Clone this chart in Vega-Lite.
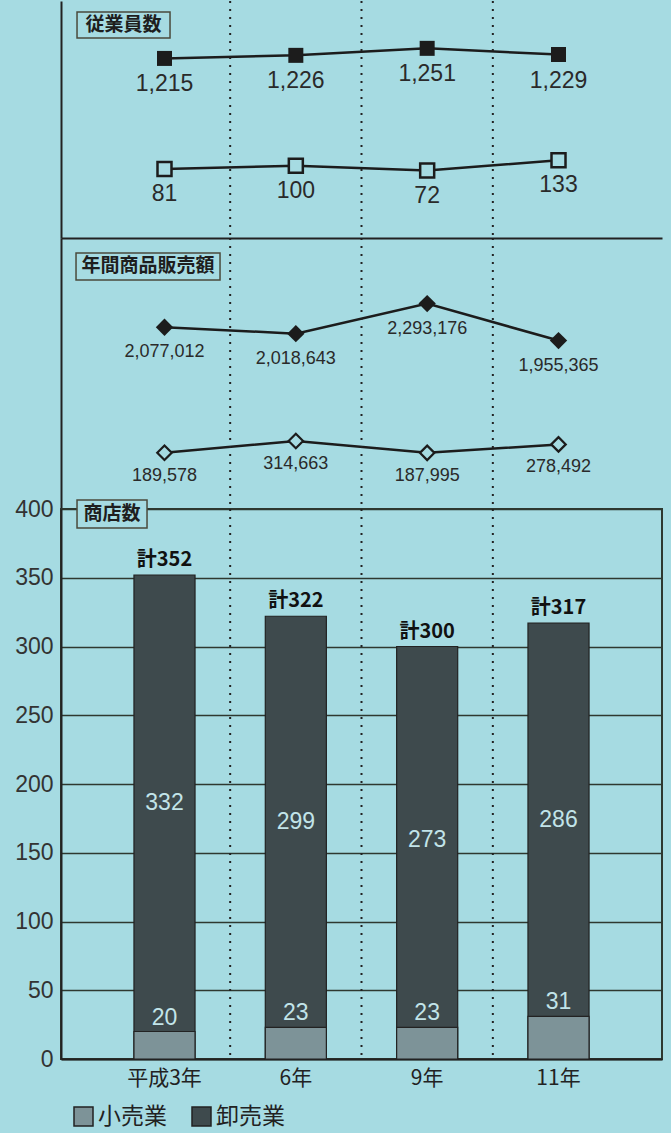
{
  "$schema": "https://vega.github.io/schema/vega-lite/v6.json",
  "background": "#a6dbe2",
  "padding": {"left": 0, "top": 0, "right": 8, "bottom": 6},
  "autosize": {"type": "pad"},
  "datasets": {
    "d": [
      {"year": "平成3年", "total": 352, "totalLabel": "計352", "retail": 20, "wholesale": 332, "empW": 1215, "empR": 81, "salesW": 2077012, "salesR": 189578},
      {"year": "6年", "total": 322, "totalLabel": "計322", "retail": 23, "wholesale": 299, "empW": 1226, "empR": 100, "salesW": 2018643, "salesR": 314663},
      {"year": "9年", "total": 300, "totalLabel": "計300", "retail": 23, "wholesale": 273, "empW": 1251, "empR": 72, "salesW": 2293176, "salesR": 187995},
      {"year": "11年", "total": 317, "totalLabel": "計317", "retail": 31, "wholesale": 286, "empW": 1229, "empR": 133, "salesW": 1955365, "salesR": 278492}
    ]
  },
  "data": {"name": "d"},
  "spacing": 0,
  "bounds": "flush",
  "vconcat": [
    {
      "width": 601,
      "height": 237,
      "view": {"stroke": null},
      "resolve": {"scale": {"y": "independent"}},
      "layer": [
        {
          "layer": [
            {
              "mark": {"type": "line", "color": "#1c1c1c", "strokeWidth": 2.5},
              "encoding": {
                "x": {"field": "year", "type": "nominal", "sort": ["平成3年", "6年", "9年", "11年"], "scale": {"paddingInner": 0, "paddingOuter": 0.288}, "axis": {"domain": true, "domainColor": "#222222", "domainWidth": 2, "labels": false, "ticks": false, "grid": false, "title": null}},
                "y": {"field": "empW", "type": "quantitative", "scale": {"domain": [574, 1420], "zero": false, "nice": false}, "axis": {"domain": true, "domainColor": "#222222", "domainWidth": 2, "labels": false, "ticks": false, "tickSize": 0, "grid": false, "title": " ", "titleFontSize": 1, "titlePadding": 60, "minExtent": 0, "maxExtent": 0}}
              }
            },
            {
              "mark": {"type": "point", "shape": "square", "size": 225, "filled": true, "color": "#1c1c1c", "opacity": 1},
              "encoding": {
                "x": {"field": "year", "type": "nominal", "sort": ["平成3年", "6年", "9年", "11年"]},
                "y": {"field": "empW", "type": "quantitative"}
              }
            },
            {
              "mark": {"type": "text", "font": "Liberation Sans", "fontSize": 23, "color": "#2a2a2a", "baseline": "middle", "dy": 26},
              "encoding": {
                "x": {"field": "year", "type": "nominal", "sort": ["平成3年", "6年", "9年", "11年"]},
                "y": {"field": "empW", "type": "quantitative"},
                "text": {"field": "empW", "type": "quantitative", "format": ","}
              }
            },
            {
              "data": {"values": [{"label": "従業員数"}]},
              "mark": {"type": "point", "shape": "M-21.8,-13H71.2V13H-21.8Z", "size": 4, "filled": true, "fill": "#a6dbe2", "stroke": "#4a4a3c", "strokeWidth": 1.5, "opacity": 1},
              "encoding": {
                "x": {"datum": "平成3年", "type": "nominal", "bandPosition": 0},
                "y": {"datum": 1334, "type": "quantitative"}
              }
            },
            {
              "data": {"values": [{"label": "従業員数"}]},
              "mark": {"type": "text", "font": "Noto Sans CJK JP", "fontWeight": "bold", "fontSize": 19, "color": "#1e1e1e", "baseline": "middle", "align": "center", "dx": 24.7},
              "encoding": {
                "x": {"datum": "平成3年", "type": "nominal", "bandPosition": 0},
                "y": {"datum": 1334, "type": "quantitative"},
                "text": {"field": "label", "type": "nominal"}
              }
            }
          ]
        },
        {
          "layer": [
            {
              "mark": {"type": "line", "color": "#1c1c1c", "strokeWidth": 2.5},
              "encoding": {
                "x": {"field": "year", "type": "nominal", "sort": ["平成3年", "6年", "9年", "11年"]},
                "y": {"field": "empR", "type": "quantitative", "scale": {"domain": [-332, 1087], "zero": false, "nice": false}, "axis": null}
              }
            },
            {
              "mark": {"type": "point", "shape": "square", "size": 196, "filled": true, "fill": "#a6dbe2", "stroke": "#1c1c1c", "strokeWidth": 2.5, "opacity": 1},
              "encoding": {
                "x": {"field": "year", "type": "nominal", "sort": ["平成3年", "6年", "9年", "11年"]},
                "y": {"field": "empR", "type": "quantitative"}
              }
            },
            {
              "mark": {"type": "text", "font": "Liberation Sans", "fontSize": 23, "color": "#2a2a2a", "baseline": "middle", "dy": 25},
              "encoding": {
                "x": {"field": "year", "type": "nominal", "sort": ["平成3年", "6年", "9年", "11年"]},
                "y": {"field": "empR", "type": "quantitative"},
                "text": {"field": "empR", "type": "quantitative", "format": ","}
              }
            }
          ]
        },
        {
          "transform": [{"filter": "datum.year !== '11年'"}],
          "mark": {"type": "rule", "color": "#222222", "strokeWidth": 2, "strokeDash": [2, 6]},
          "encoding": {
            "x": {"field": "year", "type": "nominal", "sort": ["平成3年", "6年", "9年", "11年"], "bandPosition": 1}
          }
        }
      ]
    },
    {
      "width": 601,
      "height": 271,
      "view": {"stroke": null},
      "resolve": {"scale": {"y": "independent"}},
      "layer": [
        {
          "layer": [
            {
              "mark": {"type": "line", "color": "#1c1c1c", "strokeWidth": 2.5},
              "encoding": {
                "x": {"field": "year", "type": "nominal", "sort": ["平成3年", "6年", "9年", "11年"], "scale": {"paddingInner": 0, "paddingOuter": 0.288}, "axis": null},
                "y": {"field": "salesW", "type": "quantitative", "scale": {"domain": [417100, 2892000], "zero": false, "nice": false}, "axis": {"domain": true, "domainColor": "#222222", "domainWidth": 2, "labels": false, "ticks": false, "tickSize": 0, "grid": false, "title": null, "minExtent": 0, "maxExtent": 0}}
              }
            },
            {
              "mark": {"type": "point", "shape": "diamond", "size": 300, "filled": true, "color": "#1c1c1c", "opacity": 1},
              "encoding": {
                "x": {"field": "year", "type": "nominal", "sort": ["平成3年", "6年", "9年", "11年"]},
                "y": {"field": "salesW", "type": "quantitative"}
              }
            },
            {
              "mark": {"type": "text", "font": "Liberation Sans", "fontSize": 18, "color": "#2a2a2a", "baseline": "middle", "dy": 25},
              "encoding": {
                "x": {"field": "year", "type": "nominal", "sort": ["平成3年", "6年", "9年", "11年"]},
                "y": {"field": "salesW", "type": "quantitative"},
                "text": {"field": "salesW", "type": "quantitative", "format": ","}
              }
            },
            {
              "data": {"values": [{"label": "年間商品販売額"}]},
              "mark": {"type": "point", "shape": "M-22.8,-13.5H121.2V13.5H-22.8Z", "size": 4, "filled": true, "fill": "#a6dbe2", "stroke": "#4a4a3c", "strokeWidth": 1.5, "opacity": 1},
              "encoding": {
                "x": {"datum": "平成3年", "type": "nominal", "bandPosition": 0},
                "y": {"datum": 2632000, "type": "quantitative"}
              }
            },
            {
              "data": {"values": [{"label": "年間商品販売額"}]},
              "mark": {"type": "text", "font": "Noto Sans CJK JP", "fontWeight": "bold", "fontSize": 19, "color": "#1e1e1e", "baseline": "middle", "align": "center", "dx": 49.2},
              "encoding": {
                "x": {"datum": "平成3年", "type": "nominal", "bandPosition": 0},
                "y": {"datum": 2632000, "type": "quantitative"},
                "text": {"field": "label", "type": "nominal"}
              }
            }
          ]
        },
        {
          "layer": [
            {
              "mark": {"type": "line", "color": "#1c1c1c", "strokeWidth": 2.5},
              "encoding": {
                "x": {"field": "year", "type": "nominal", "sort": ["平成3年", "6年", "9年", "11年"]},
                "y": {"field": "salesR", "type": "quantitative", "scale": {"domain": [-412561, 2485835], "zero": false, "nice": false}, "axis": null}
              }
            },
            {
              "mark": {"type": "point", "shape": "diamond", "size": 210, "filled": true, "fill": "#a6dbe2", "stroke": "#1c1c1c", "strokeWidth": 2.2, "opacity": 1},
              "encoding": {
                "x": {"field": "year", "type": "nominal", "sort": ["平成3年", "6年", "9年", "11年"]},
                "y": {"field": "salesR", "type": "quantitative"}
              }
            },
            {
              "mark": {"type": "text", "font": "Liberation Sans", "fontSize": 18, "color": "#2a2a2a", "baseline": "middle", "dy": 23},
              "encoding": {
                "x": {"field": "year", "type": "nominal", "sort": ["平成3年", "6年", "9年", "11年"]},
                "y": {"field": "salesR", "type": "quantitative"},
                "text": {"field": "salesR", "type": "quantitative", "format": ","}
              }
            }
          ]
        },
        {
          "transform": [{"filter": "datum.year !== '11年'"}],
          "mark": {"type": "rule", "color": "#222222", "strokeWidth": 2, "strokeDash": [2, 6]},
          "encoding": {
            "x": {"field": "year", "type": "nominal", "sort": ["平成3年", "6年", "9年", "11年"], "bandPosition": 1}
          }
        }
      ]
    },
    {
      "width": 601,
      "height": 550,
      "view": {"stroke": "#2e3830", "strokeWidth": 2},
      "layer": [
        {
          "mark": {"type": "bar", "width": {"band": 0.465}, "stroke": "#222222", "strokeWidth": 1.2},
          "encoding": {
            "x": {"field": "year", "type": "nominal", "sort": ["平成3年", "6年", "9年", "11年"], "scale": {"paddingInner": 0, "paddingOuter": 0.288}, "axis": {"title": null, "domain": true, "domainColor": "#222222", "domainWidth": 2, "ticks": false, "tickSize": 0, "labelFont": "Noto Sans CJK JP", "labelFontSize": 21, "labelColor": "#222222", "labelPadding": 8, "labelAngle": 0, "grid": false}},
            "y": {"field": "total", "type": "quantitative", "scale": {"domain": [0, 400], "nice": false, "zero": true}, "axis": {"title": null, "values": [0, 50, 100, 150, 200, 250, 300, 350, 400], "grid": true, "gridColor": "#2e3830", "gridWidth": 1.5, "domain": true, "domainColor": "#222222", "domainWidth": 2, "ticks": false, "tickSize": 0, "labelFont": "Liberation Sans", "labelFontSize": 23, "labelColor": "#333333", "labelPadding": 8}},
            "color": {"datum": "卸売業", "type": "nominal", "scale": {"domain": ["小売業", "卸売業"], "range": ["#7d9398", "#3e4a4d"]}, "legend": {"orient": "none", "legendX": 11, "legendY": 1104, "direction": "horizontal", "title": null, "symbolType": "square", "symbolSize": 361, "symbolStrokeColor": "#222222", "symbolStrokeWidth": 1.5, "symbolOpacity": 1, "labelFont": "Noto Sans CJK JP", "labelFontSize": 23, "labelColor": "#222222", "labelOffset": 3, "columnPadding": 22}}
          }
        },
        {
          "mark": {"type": "bar", "width": {"band": 0.465}, "stroke": "#222222", "strokeWidth": 1.2},
          "encoding": {
            "x": {"field": "year", "type": "nominal", "sort": ["平成3年", "6年", "9年", "11年"]},
            "y": {"field": "retail", "type": "quantitative", "title": null},
            "color": {"datum": "小売業", "type": "nominal"}
          }
        },
        {
          "mark": {"type": "text", "font": "Noto Sans CJK JP", "fontWeight": "bold", "fontSize": 20, "color": "#111111", "baseline": "bottom", "dy": -5},
          "encoding": {
            "x": {"field": "year", "type": "nominal", "sort": ["平成3年", "6年", "9年", "11年"]},
            "y": {"field": "total", "type": "quantitative", "title": null},
            "text": {"field": "totalLabel", "type": "nominal"}
          }
        },
        {
          "mark": {"type": "text", "font": "Liberation Sans", "fontSize": 23, "color": "#c2e4e9", "baseline": "bottom", "dy": -2},
          "encoding": {
            "x": {"field": "year", "type": "nominal", "sort": ["平成3年", "6年", "9年", "11年"]},
            "y": {"field": "retail", "type": "quantitative", "title": null},
            "text": {"field": "retail", "type": "quantitative"}
          }
        },
        {
          "transform": [{"fold": ["retail", "wholesale"], "as": ["type", "n"]}],
          "mark": {"type": "text", "font": "Liberation Sans", "fontSize": 23, "color": "#c2e4e9", "baseline": "middle"},
          "encoding": {
            "x": {"field": "year", "type": "nominal", "sort": ["平成3年", "6年", "9年", "11年"]},
            "y": {"field": "n", "type": "quantitative", "stack": "zero", "bandPosition": 0.5, "title": null},
            "detail": {"field": "type", "type": "nominal"},
            "order": {"field": "type", "sort": "ascending"},
            "text": {"field": "n", "type": "quantitative"},
            "opacity": {"condition": {"test": "datum.type === 'wholesale'", "value": 1}, "value": 0}
          }
        },
        {
          "transform": [{"filter": "datum.year !== '11年'"}],
          "mark": {"type": "rule", "color": "#222222", "strokeWidth": 2, "strokeDash": [2, 6]},
          "encoding": {
            "x": {"field": "year", "type": "nominal", "sort": ["平成3年", "6年", "9年", "11年"], "bandPosition": 1}
          }
        },
        {
          "data": {"values": [{"label": "商店数"}]},
          "mark": {"type": "point", "shape": "M-21.8,-14H48.2V14H-21.8Z", "size": 4, "filled": true, "fill": "#a6dbe2", "stroke": "#4a4a3c", "strokeWidth": 1.5, "opacity": 1},
          "encoding": {
            "x": {"datum": "平成3年", "type": "nominal", "bandPosition": 0},
            "y": {"datum": 396.4, "type": "quantitative"}
          }
        },
        {
          "data": {"values": [{"label": "商店数"}]},
          "mark": {"type": "text", "font": "Noto Sans CJK JP", "fontWeight": "bold", "fontSize": 19, "color": "#1e1e1e", "baseline": "middle", "align": "center", "dx": 13.2},
          "encoding": {
            "x": {"datum": "平成3年", "type": "nominal", "bandPosition": 0},
            "y": {"datum": 396.4, "type": "quantitative"},
            "text": {"field": "label", "type": "nominal"}
          }
        }
      ]
    }
  ],
  "config": {
    "view": {"stroke": null},
    "legend": {"padding": 0}
  }
}
